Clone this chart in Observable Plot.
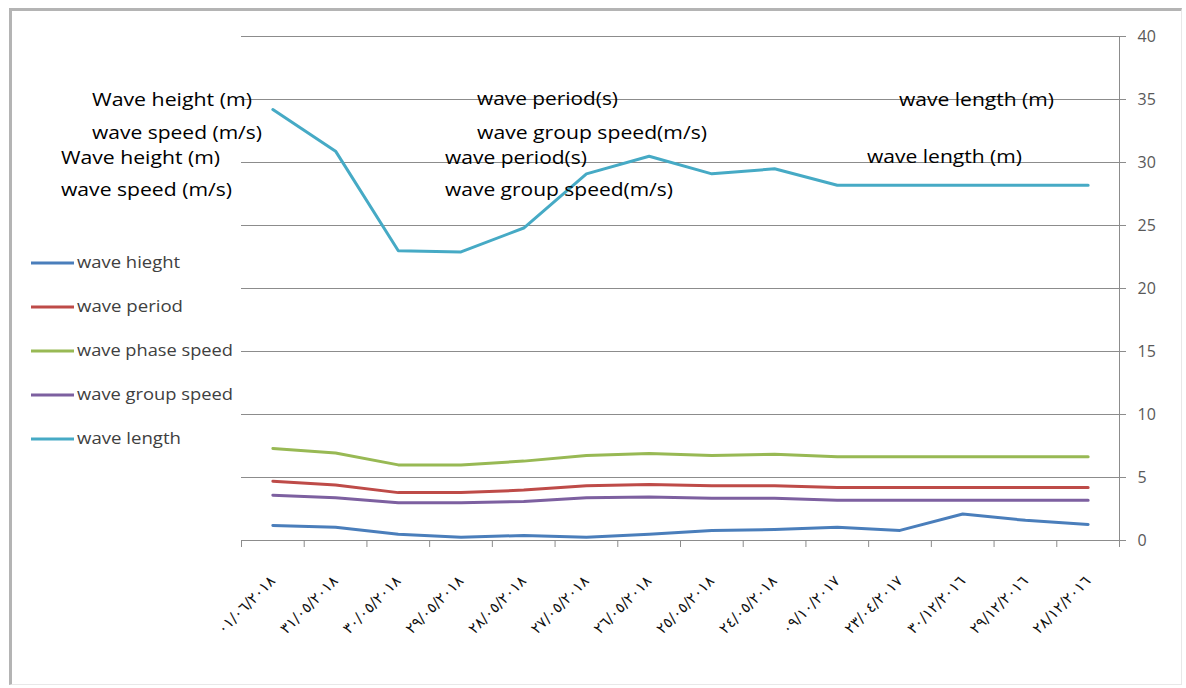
<!DOCTYPE html>
<html><head><meta charset="utf-8">
<script src="https://cdn.jsdelivr.net/npm/d3@7"></script>
<script src="https://cdn.jsdelivr.net/npm/@observablehq/plot@0.6"></script>
<style>
html,body{margin:0;padding:0;background:#fff;}
#wrap{position:relative;width:1186px;height:688px;overflow:hidden;background:#fff;}
#frame{position:absolute;left:9px;top:8px;width:1169px;height:673px;border-left:3px solid #b4b4b4;border-top:3px solid #b4b4b4;border-right:1px solid #e8e8e8;border-bottom:1px solid #e8e8e8;}
#chart{position:absolute;left:0;top:0;}
#overlay{position:absolute;left:0;top:0;}
</style></head>
<body><div id="wrap"><div id="frame"></div><div id="chart"></div><svg id="overlay" width="1186" height="688"></svg></div>
<script>
const dates = ["٠١/٠٦/٢٠١٨","٣١/٠٥/٢٠١٨","٣٠/٠٥/٢٠١٨","٢٩/٠٥/٢٠١٨","٢٨/٠٥/٢٠١٨","٢٧/٠٥/٢٠١٨","٢٦/٠٥/٢٠١٨","٢٥/٠٥/٢٠١٨","٢٤/٠٥/٢٠١٨","٠٩/١٠/٢٠١٧","٢٣/٠٤/٢٠١٧","٣٠/١٢/٢٠١٦","٢٩/١٢/٢٠١٦","٢٨/١٢/٢٠١٦"];
const waveHeight     = [1.2, 1.05, 0.5, 0.26, 0.4, 0.26, 0.5, 0.8, 0.87, 1.05, 0.8, 2.1, 1.6, 1.27];
const wavePeriod     = [4.7, 4.4, 3.8, 3.8, 4.0, 4.35, 4.45, 4.35, 4.35, 4.2, 4.2, 4.2, 4.2, 4.2];
const wavePhaseSpeed = [7.3, 6.95, 6.0, 6.0, 6.3, 6.75, 6.9, 6.75, 6.85, 6.65, 6.65, 6.65, 6.65, 6.65];
const waveGroupSpeed = [3.6, 3.4, 3.0, 3.0, 3.1, 3.4, 3.45, 3.35, 3.35, 3.2, 3.2, 3.2, 3.2, 3.2];
const waveLength     = [34.2, 30.9, 23.0, 22.9, 24.8, 29.1, 30.5, 29.1, 29.5, 28.2, 28.2, 28.2, 28.2, 28.2];
const seriesNames  = ["wave hieght","wave period","wave phase speed","wave group  speed","wave length"];
const seriesColors = ["#4A7EBB","#BE4B48","#98B954","#7D60A0","#46AAC5"];
const yTicks = [0,5,10,15,20,25,30,35,40];
const notes = [
  {t:"Wave height (m)", x:92, y:106, w:160},
  {t:"wave speed (m/s)", x:92, y:139, w:170},
  {t:"Wave height (m)", x:61, y:164, w:159},
  {t:"wave speed (m/s)", x:61, y:196, w:171},
  {t:"wave period(s)", x:477, y:105, w:141},
  {t:"wave group speed(m/s)", x:477, y:139, w:230},
  {t:"wave period(s)", x:445, y:164, w:142},
  {t:"wave group speed(m/s)", x:445, y:196, w:228},
  {t:"wave length (m)", x:899, y:106, w:155},
  {t:"wave length (m)", x:867, y:163, w:155}
];
const legendWidths = [103,106,156,156,104];

const allValues = [waveHeight, wavePeriod, wavePhaseSpeed, waveGroupSpeed, waveLength];
const rows = allValues.flatMap((vals, s) => vals.map((v, i) => ({i, v, s: seriesNames[s]})));

const n = dates.length;
const chart = Plot.plot({
  width: 1186, height: 688,
  marginLeft: 241, marginRight: 67, marginTop: 36, marginBottom: 148,
  x: {type: "linear", domain: [-0.5, n - 0.5]},
  y: {domain: [0, 40]},
  color: {domain: seriesNames, range: seriesColors},
  style: {fontFamily: "Open Sans", background: "transparent", overflow: "visible"},
  marks: [
    Plot.ruleY(yTicks, {stroke: "#8c8c8c", strokeWidth: 1}),
    Plot.ruleX([n - 0.5], {stroke: "#8c8c8c", strokeWidth: 1}),
    Plot.axisY({anchor: "right", ticks: yTicks, tickSize: 6, tickPadding: 12, stroke: "#8c8c8c", fill: "#595959", fontSize: 16, label: null}),
    Plot.axisX({ticks: d3.range(n + 1).map(k => k - 0.5), tickSize: 7, tickFormat: () => "", stroke: "#8c8c8c", label: null}),
    Plot.axisX({ticks: d3.range(n), tickSize: 0, tickPadding: 38, tickRotate: -45, tickFormat: k => dates[k], fontSize: 15, fontFamily: "DejaVu Sans", fill: "#111", label: null}),
    Plot.line(rows, {x: "i", y: "v", z: "s", stroke: "s", strokeWidth: 3, curve: "linear"})
  ]
});
document.getElementById("chart").appendChild(chart);

const ov = d3.select("#overlay");
notes.forEach(d => {
  ov.append("text").attr("x", d.x).attr("y", d.y)
    .attr("font-family", "Open Sans").attr("font-size", 18).attr("fill", "#000")
    .attr("textLength", d.w).attr("lengthAdjust", "spacingAndGlyphs").text(d.t);
});
seriesNames.forEach((name, k) => {
  const cy = 263 + k * 44;
  ov.append("line").attr("x1", 31).attr("x2", 74).attr("y1", cy).attr("y2", cy)
    .attr("stroke", seriesColors[k]).attr("stroke-width", 3);
  ov.append("text").attr("x", 77).attr("y", cy + 5)
    .attr("font-family", "Open Sans").attr("font-size", 16).attr("fill", "#404040")
    .attr("textLength", legendWidths[k]).attr("lengthAdjust", "spacingAndGlyphs").text(name);
});
</script></body></html>
